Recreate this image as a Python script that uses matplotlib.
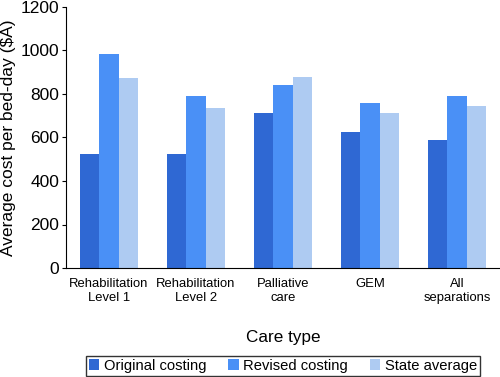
import matplotlib
matplotlib.use("Agg")
import matplotlib.pyplot as plt
import numpy as np
from matplotlib.patches import Patch

plt.rcParams['font.family'] = ['Liberation Sans', 'DejaVu Sans']

categories = ["Rehabilitation\nLevel 1", "Rehabilitation\nLevel 2", "Palliative\ncare", "GEM", "All\nseparations"]
original = [525, 525, 714, 625, 587]
revised = [982, 789, 843, 757, 793]
state = [873, 737, 880, 713, 745]
series_names = ["Original costing", "Revised costing", "State average"]
colors = ["#2f68d3", "#4a90f6", "#aecbf2"]

fig = plt.figure(figsize=(5, 3.77), dpi=100)
ax = fig.add_axes([66/500, 1-268/377, 434/500, 261/377])

x = np.arange(len(categories))
w = 0.222
for i, (vals, c) in enumerate(zip([original, revised, state], colors)):
    ax.bar(x + (i - 1) * w, vals, width=w, color=c, edgecolor='none')

ax.set_xlim(-0.495, 4.495)
ax.set_ylim(0, 1200)
ax.set_yticks(range(0, 1201, 200))
ax.set_xticks(x)
ax.set_xticklabels(categories, fontsize=9.4, linespacing=1.25)
ax.tick_params(axis='x', length=0, pad=7)
ax.tick_params(axis='y', labelsize=12.5, length=3, direction='out', pad=2)
for s in ['top', 'right']:
    ax.spines[s].set_visible(False)
ax.set_ylabel("Average cost per bed-day ($A)", fontsize=12.5, labelpad=3)
ax.set_xlabel("Care type", fontsize=12.3, labelpad=19)

handles = [Patch(facecolor=c, edgecolor='none') for c in colors]
leg = fig.legend(handles, series_names, loc='lower center', bbox_to_anchor=(283/500, 0.0),
                 ncol=3, fontsize=10.6, frameon=True, fancybox=False,
                 handlelength=0.7, handleheight=0.7, handletextpad=0.3,
                 columnspacing=1.5, borderpad=0.2, borderaxespad=0.1)
leg.get_frame().set_edgecolor('black')
leg.get_frame().set_linewidth(1.0)

fig.savefig("out.png", dpi=100)
